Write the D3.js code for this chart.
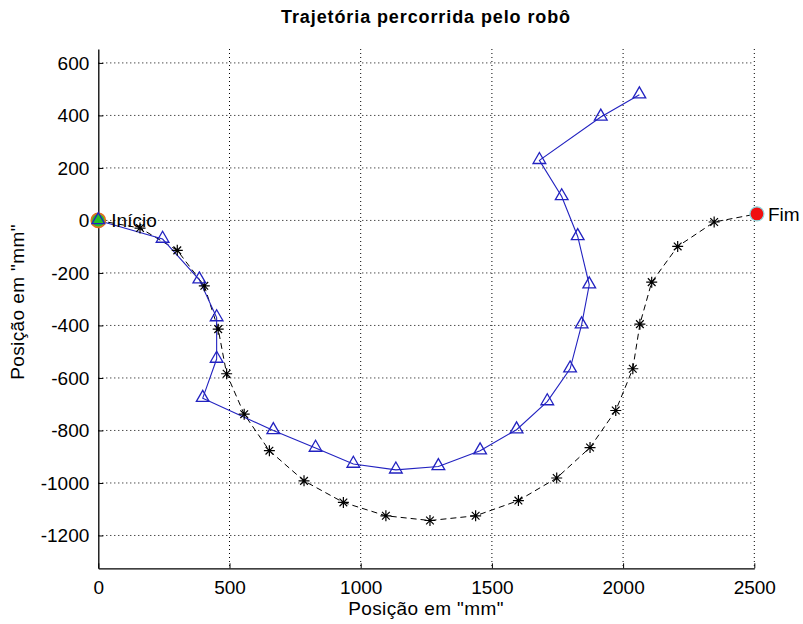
<!DOCTYPE html>
<html><head><meta charset="utf-8">
<script src="https://cdn.jsdelivr.net/npm/d3@7"></script>
<style>body{margin:0;background:#fff}text{font-family:Arial,"Liberation Sans",sans-serif}</style>
</head><body><svg id="c" width="803" height="624"></svg>
<script>
// Robot trajectory (blue, triangles)
const blueX = [0, 245, 385, 451, 451, 398, 667, 828, 972, 1134, 1296, 1455, 1594, 1711, 1798, 1842, 1871, 1827, 1766, 1681, 1915, 2062];
const blueY = [0, -71, -226, -370, -528, -677, -800, -867, -928, -950, -937, -877, -797, -690, -565, -397, -245, -61, 91, 229, 394, 479];
// Reference trajectory (black dashed, stars)
const blackX = [0, 159, 301, 404, 457, 489, 556, 652, 784, 934, 1096, 1264, 1438, 1601, 1747, 1874, 1972, 2037, 2064, 2109, 2208, 2347, 2510];
const blackY = [0, -29, -114, -249, -414, -584, -738, -877, -992, -1074, -1125, -1143, -1125, -1067, -981, -865, -724, -565, -395, -235, -99, -6, 25];
const startPt = [0, 0], endPt = [2510, 25];
const xTicks = [0, 500, 1000, 1500, 2000, 2500];
const yTicks = [-1200, -1000, -800, -600, -400, -200, 0, 200, 400, 600];
const title = "Trajetória percorrida pelo robô";
const xLabel = 'Posição em "mm"', yLabel = 'Posição em "mm"';

const L = 98.3, R = 754.3, T = 49, B = 568.3;
const x = d3.scaleLinear().domain([0, 2500]).range([L, R]);
const y = d3.scaleLinear().domain([-1325, 653]).range([B, T]);
const svg = d3.select("#c");
const tickFont = "'Liberation Sans Narrow', 'Arial Narrow', Arial, sans-serif";

// grid
const g = svg.append("g");
g.selectAll(".vg").data(xTicks.slice(1)).join("line")
  .attr("x1", d => x(d)).attr("x2", d => x(d)).attr("y1", T).attr("y2", B)
  .attr("stroke", "#000").attr("stroke-width", 1).attr("stroke-dasharray", "1,3");
g.selectAll(".hg").data(yTicks).join("line")
  .attr("x1", L).attr("x2", R).attr("y1", d => y(d)).attr("y2", d => y(d))
  .attr("stroke", "#000").attr("stroke-width", 1).attr("stroke-dasharray", "1,3");

// axes
const fmt = d => String(d);
const xa = svg.append("g").attr("transform", `translate(0,${B})`)
  .call(d3.axisBottom(x).tickValues(xTicks).tickFormat(fmt).tickSizeInner(-5).tickSizeOuter(0).tickPadding(12));
const ya = svg.append("g").attr("transform", `translate(${L},0)`)
  .call(d3.axisLeft(y).tickValues(yTicks).tickFormat(fmt).tickSizeInner(-5).tickSizeOuter(0).tickPadding(9));
[xa, ya].forEach(a => {
  a.selectAll("text").attr("font-size", 19).attr("fill", "#000").style("font-family", tickFont);
  a.selectAll("line").attr("stroke", "#000");
  a.select(".domain").attr("stroke", "#000").attr("stroke-width", 1.3);
});

// black dashed line
const pts = (xs, ys) => xs.map((v, i) => [x(v), y(ys[i])]);
const bk = pts(blackX, blackY);
svg.append("path").attr("d", d3.line()(bk)).attr("fill", "none")
  .attr("stroke", "#000").attr("stroke-width", 1).attr("stroke-dasharray", "6,4");
// blue line
const bl = pts(blueX, blueY);
svg.append("path").attr("d", d3.line()(bl)).attr("fill", "none")
  .attr("stroke", "#2222c0").attr("stroke-width", 1.1);

// stars
const star = svg.append("g");
bk.slice(1, -1).forEach(([px, py]) => {
  const s = 5.5;
  const p = `M${px - s},${py}L${px + s},${py}M${px},${py - s}L${px},${py + s}` +
    `M${px - s * 0.7},${py - s * 0.7}L${px + s * 0.7},${py + s * 0.7}M${px - s * 0.7},${py + s * 0.7}L${px + s * 0.7},${py - s * 0.7}`;
  star.append("path").attr("d", p).attr("stroke", "#000").attr("stroke-width", 1.2).attr("fill", "none");
});

// start marker circle
svg.append("circle").attr("cx", x(startPt[0])).attr("cy", y(startPt[1])).attr("r", 7)
  .attr("fill", "#22c22a").attr("stroke", "#e07020").attr("stroke-width", 1.8);

// triangles
const tri = d3.symbol().type(d3.symbolTriangle).size(70);
svg.append("g").selectAll("path").data(bl).join("path")
  .attr("transform", d => `translate(${d[0]},${d[1] - 0.5})`)
  .attr("d", tri).attr("fill", "none").attr("stroke", "#2222c0").attr("stroke-width", 1.3);

// end marker
svg.append("circle").attr("cx", x(endPt[0])).attr("cy", y(endPt[1])).attr("r", 7)
  .attr("fill", "#f01010").attr("stroke", "#8fd8e0").attr("stroke-width", 1.2);

// labels
svg.append("text").attr("x", x(startPt[0]) + 13).attr("y", y(startPt[1]) + 7)
  .attr("font-size", 19).text("Início");
svg.append("text").attr("x", x(endPt[0]) + 11).attr("y", y(endPt[1]) + 7)
  .attr("font-size", 19).text("Fim");

svg.append("text").attr("x", 426).attr("y", 23).attr("text-anchor", "middle")
  .attr("font-size", 18).attr("font-weight", "bold").attr("letter-spacing", 0.9).text(title);
svg.append("text").attr("x", 426).attr("y", 615).attr("text-anchor", "middle")
  .attr("font-size", 19).attr("letter-spacing", 0.4).text(xLabel);
svg.append("text").attr("transform", "translate(24,302) rotate(-90)").attr("text-anchor", "middle")
  .attr("font-size", 19).attr("letter-spacing", 0.4).text(yLabel);
</script></body></html>
